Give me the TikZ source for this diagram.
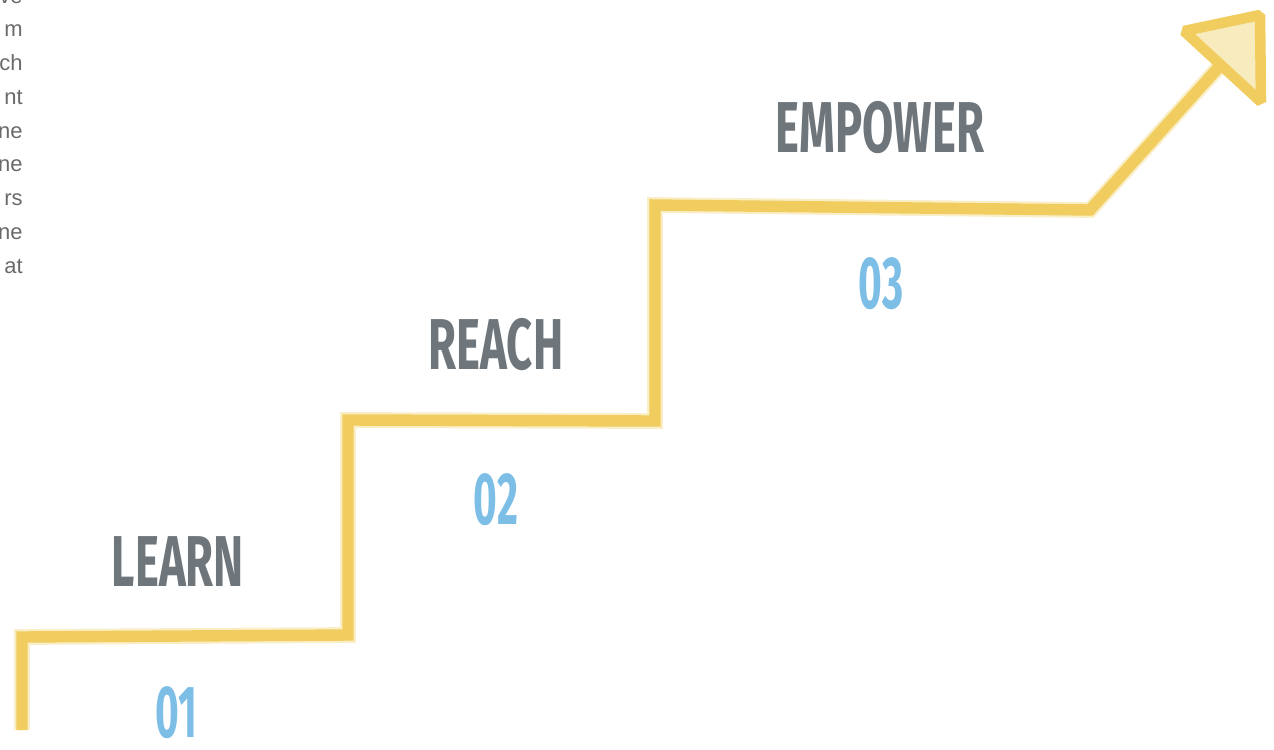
\documentclass[tikz,border=0pt]{standalone}
\usepackage{fontspec}
\setmainfont{Liberation Sans}
\newfontfamily\headfont[FakeStretch=0.63]{Fira Sans}
\newfontfamily\numfont[FakeStretch=0.55]{Fira Sans}
\definecolor{stepgray}{HTML}{6E767C}
\definecolor{stepblue}{HTML}{7DBEE6}
\definecolor{brush}{HTML}{F0CD5E}
\definecolor{brushlight}{HTML}{F8EBBE}
\definecolor{bodygray}{HTML}{6A6A6A}
\begin{document}
\begin{tikzpicture}[
    x=0.02cm, y=-0.02cm,
    title/.style={
        inner sep=0pt,
        text=stepgray,
        font=\headfont\bfseries\fontsize{41}{41}\selectfont
    },
    number/.style={
        inner sep=0pt,
        text=stepblue,
        font=\numfont\bfseries\fontsize{42}{42}\selectfont
    },
    bodyline/.style={
        anchor=base east,
        inner sep=0pt,
        text=bodygray,
        font=\fontsize{12.5}{12.5}\selectfont
    },
    stair/.style={
        draw=brush,
        line width=6.5pt,
        line join=miter,
        line cap=butt
    },
    stairsoft/.style={
        draw=brush,
        opacity=0.35,
        line width=9pt,
        line join=miter,
        line cap=butt
    }
]
\useasboundingbox (0,0) rectangle (1274,750);

% Cut-off text column
\node[bodyline] (t1) at (23,4) {ve};
\node[bodyline] (t2) at (23,37) {m};
\node[bodyline] (t3) at (23,71) {ch};
\node[bodyline] (t4) at (23,105) {nt};
\node[bodyline] (t5) at (23,138) {ne};
\node[bodyline] (t6) at (23,172) {ne};
\node[bodyline] (t7) at (23,205) {rs};
\node[bodyline] (t8) at (23,239) {ne};
\node[bodyline] (t9) at (23,273) {at};

% Stair corners
\coordinate (start) at (22,730);
\coordinate (s1) at (22,637);
\coordinate (s2) at (348,635);
\coordinate (s3) at (348,420);
\coordinate (s4) at (655,421);
\coordinate (s5) at (655,205);
\coordinate (s6) at (1090,210);
\coordinate (tip) at (1218,68);

% Arrow head
\coordinate (h1) at (1184,31);
\coordinate (h2) at (1260,15);
\coordinate (h3) at (1261,102);
\filldraw[brushlight, draw=brush, line width=6pt, line join=bevel]
    (h1) -- (h2) -- (h3) -- cycle;

% Stairs
\draw[stairsoft] (start) -- (s1) -- (s2) -- (s3) -- (s4) -- (s5) -- (s6) -- (tip);
\draw[stair] (start) -- (s1) -- (s2) -- (s3) -- (s4) -- (s5) -- (s6) -- (tip);

% Steps
\node[title] (learn) at (178,562) {LEARN};
\node[title] (reach) at (496,345) {REACH};
\node[title] (empower) at (880,128) {EMPOWER};

\node[number] (n1) at (176,713) {01};
\node[number] (n2) at (496,500) {02};
\node[number] (n3) at (881,284) {03};

\end{tikzpicture}
\end{document}
